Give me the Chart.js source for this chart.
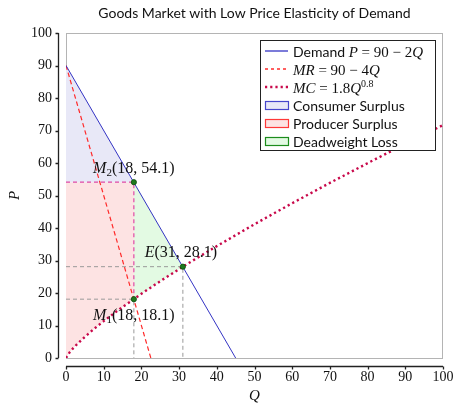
<!DOCTYPE html>
<html>
<head>
<meta charset="utf-8">
<script src="https://cdn.jsdelivr.net/npm/chart.js@4/dist/chart.umd.min.js"></script>
<style>
  html, body { margin: 0; padding: 0; background: #fff; }
  #wrap { width: 456px; height: 403px; position: relative; }
</style>
</head>
<body>
<div id="wrap"><canvas id="chart"></canvas></div>
<script>
// ---- data ----
const chartTitle = 'Goods Market with Low Price Elasticity of Demand';
const xTickValues = [0, 10, 20, 30, 40, 50, 60, 70, 80, 90, 100];
const yTickValues = [0, 10, 20, 30, 40, 50, 60, 70, 80, 90, 100];

// Demand P = 90 - 2Q (straight line, end points)
const demandQ = [0, 45];
const demandP = [90, 0];

// Marginal revenue MR = 90 - 4Q
const mrQ = [0, 22.5];
const mrP = [90, 0];

// Marginal cost MC = 1.8 Q^0.8 (sampled)
const mcQ = [0, 1, 2, 3, 5, 7.5, 10, 15, 18, 20, 25, 30, 31, 35, 40, 50, 60, 70, 80, 90, 100];
const mcP = [0, 1.8, 3.13, 4.33, 6.52, 9.02, 11.36, 15.71, 18.1, 19.77, 23.64, 27.35, 28.1, 30.94, 34.43, 41.16, 47.63, 53.88, 59.94, 65.88, 71.66];

// Marked points: M2 (monopoly price), M1 (monopoly MC), E (equilibrium)
const markNames = ['M2', 'M1', 'E'];
const markQ = [18, 18, 31];
const markP = [54.1, 18.1, 28.1];

// ---- helpers ----
const pts = (xs, ys) => xs.map((x, i) => ({ x, y: ys[i] }));
const qM = markQ[0], pMono = markP[0], pMc = markP[1];
const qE = markQ[2], pE = markP[2];

// Consumer surplus: under demand, above monopoly price
const csPoly = [{ x: demandQ[0], y: demandP[0] }, { x: qM, y: pMono }, { x: 0, y: pMono }, { x: demandQ[0], y: demandP[0] }];
// Producer surplus: below monopoly price, above MC up to qM
const psPoly = [{ x: 0, y: pMono }, { x: qM, y: pMono }]
  .concat(pts(mcQ, mcP).filter(p => p.x <= qM).reverse())
  .concat([{ x: 0, y: pMono }]);
// Deadweight loss: between demand and MC from qM to qE
const dwlPoly = [{ x: qM, y: pMono }, { x: qE, y: pE }]
  .concat(pts(mcQ, mcP).filter(p => p.x >= qM && p.x <= qE).reverse())
  .concat([{ x: qM, y: pMono }]);

const C = {
  demand: '#3434c4',
  mr: '#ff2a2a',
  mc: '#c8084a',
  magenta: '#e04aa6',
  guide: '#9a9a9a',
  csFill: '#e8e8f7', csEdge: '#4646cc',
  psFill: '#fde3e3', psEdge: '#ff3838',
  dwlFill: '#e3fae3', dwlEdge: '#1c8c1c',
  mark: '#1d7a1d', markEdge: '#0b4b0b'
};

const SERIF = '"Liberation Serif", "DejaVu Serif", serif';
const SANS = 'Lato, "DejaVu Sans", sans-serif';

function lineSet(data, color, width, dash, order, extra) {
  return Object.assign({
    data, showLine: true, borderColor: color, borderWidth: width, borderDash: dash || [],
    pointRadius: 0, pointHoverRadius: 0, fill: false, order, tension: 0
  }, extra || {});
}

const datasets = [
  // marks (top)
  { data: pts(markQ, markP), showLine: false, pointRadius: 2.6, pointStyle: 'circle',
    backgroundColor: C.mark, borderColor: C.markEdge, borderWidth: 0.8, order: 0 },
  lineSet(pts(demandQ, demandP), C.demand, 1, [], 1),
  lineSet(pts(mrQ, mrP), C.mr, 1.2, [4.5, 3], 1),
  lineSet(pts(mcQ, mcP), C.mc, 2.4, [2.2, 3], 1),
  // guide lines
  lineSet([{ x: 0, y: pMono }, { x: qM, y: pMono }, { x: qM, y: pMc }], C.magenta, 1.2, [4, 3], 2),
  lineSet([{ x: 0, y: pE }, { x: qE, y: pE }, { x: qE, y: 0 }], C.guide, 1, [4, 3], 3),
  lineSet([{ x: 0, y: pMc }, { x: qM, y: pMc }, { x: qM, y: 0 }], C.guide, 1, [4, 3], 3),
  // shaded areas (bottom)
  lineSet(csPoly, 'rgba(0,0,0,0)', 0, [], 4, { fill: 'shape', backgroundColor: C.csFill }),
  lineSet(psPoly, 'rgba(0,0,0,0)', 0, [], 4, { fill: 'shape', backgroundColor: C.psFill }),
  lineSet(dwlPoly, 'rgba(0,0,0,0)', 0, [], 4, { fill: 'shape', backgroundColor: C.dwlFill })
];

// draw a row of text runs with different fonts
function drawRuns(ctx, runs, x, y, align) {
  let total = 0;
  runs.forEach(r => { ctx.font = r.font; total += ctx.measureText(r.t).width; });
  let cx = align === 'center' ? x - total / 2 : x;
  ctx.textAlign = 'left';
  ctx.textBaseline = 'alphabetic';
  runs.forEach(r => {
    ctx.font = r.font;
    ctx.fillText(r.t, cx, y + (r.dy || 0));
    cx += ctx.measureText(r.t).width;
  });
}

const mathI = (s, sz) => ({ t: s, font: `italic ${sz || 15}px ${SERIF}` });
const mathR = (s, sz) => ({ t: s, font: `${sz || 15}px ${SERIF}` });
const sans = s => ({ t: s, font: `14px ${SANS}` });

const legendRows = [
  { kind: 'line', color: C.demand, width: 1.3, dash: [], runs: [sans('Demand '), mathI('P'), mathR(' = 90 \u2212 2'), mathI('Q')] },
  { kind: 'line', color: C.mr, width: 1.4, dash: [3, 3], runs: [mathI('MR'), mathR(' = 90 \u2212 4'), mathI('Q')] },
  { kind: 'line', color: C.mc, width: 2.4, dash: [2.2, 3], runs: [mathI('MC'), mathR(' = 1.8'), mathI('Q'), { t: '0.8', font: `10px ${SERIF}`, dy: -6 }] },
  { kind: 'box', color: C.csEdge, fill: C.csFill, runs: [sans('Consumer Surplus')] },
  { kind: 'box', color: C.psEdge, fill: C.psFill, runs: [sans('Producer Surplus')] },
  { kind: 'box', color: C.dwlEdge, fill: C.dwlFill, runs: [sans('Deadweight Loss')] }
];

const decor = {
  id: 'decor',
  beforeDatasetsDraw(chart) {
    const { ctx, chartArea: a } = chart;
    ctx.save();
    ctx.strokeStyle = '#b4b4b4';
    ctx.lineWidth = 1;
    ctx.strokeRect(a.left + 0.5, a.top + 0.5, a.right - a.left - 1, a.bottom - a.top);
    ctx.restore();
  },
  afterDraw(chart) {
    const { ctx, chartArea: a, scales } = chart;
    const xs = scales.x, ys = scales.y;
    ctx.save();
    // title
    ctx.fillStyle = '#111';
    ctx.font = `14px ${SANS}`;
    ctx.textAlign = 'center';
    ctx.textBaseline = 'middle';
    ctx.fillText(chartTitle, (a.left + a.right) / 2, 13);

    // separated axis lines
    ctx.strokeStyle = '#222';
    ctx.lineWidth = 1.3;
    const axX = a.left - 7.5, axY = a.bottom + 8.5;
    ctx.beginPath();
    ctx.moveTo(axX, a.top); ctx.lineTo(axX, a.bottom);
    yTickValues.forEach(v => { const py = Math.round(ys.getPixelForValue(v)) + 0.5; ctx.moveTo(axX, py); ctx.lineTo(axX - 3, py); });
    ctx.moveTo(a.left, axY); ctx.lineTo(a.right, axY);
    xTickValues.forEach(v => { const px = Math.round(xs.getPixelForValue(v)) + 0.5; ctx.moveTo(px, axY); ctx.lineTo(px, axY + 3); });
    ctx.stroke();

    // axis titles
    ctx.fillStyle = '#111';
    ctx.font = `italic 15px ${SERIF}`;
    ctx.textAlign = 'center';
    ctx.textBaseline = 'middle';
    ctx.fillText('Q', (a.left + a.right) / 2, 396);
    ctx.save();
    ctx.translate(15, (a.top + a.bottom) / 2);
    ctx.rotate(-Math.PI / 2);
    ctx.fillText('P', 0, 0);
    ctx.restore();

    // point labels
    ctx.fillStyle = '#111';
    const lab = i => {
      const name = markNames[i];
      const runs = [mathI(name[0], 16)];
      if (name.length > 1) runs.push({ t: name.slice(1), font: `11px ${SERIF}`, dy: 3 });
      runs.push(mathR(`(${markQ[i]}, ${markP[i].toFixed(1)})`, 16));
      return runs;
    };
    const px = i => xs.getPixelForValue(markQ[i]);
    const py = i => ys.getPixelForValue(markP[i]);
    drawRuns(ctx, lab(0), px(0), py(0) - 9, 'center');
    drawRuns(ctx, lab(1), px(1), py(1) + 21, 'center');
    drawRuns(ctx, lab(2), px(2) - 2, py(2) - 10, 'center');

    // legend
    const lx = 260.5, ly = 40.5, lw = 175, lh = 110;
    ctx.fillStyle = '#fff';
    ctx.fillRect(lx, ly, lw, lh);
    ctx.strokeStyle = '#222';
    ctx.lineWidth = 1;
    ctx.strokeRect(lx, ly, lw, lh);
    legendRows.forEach((row, i) => {
      const cy = 51 + i * 18;
      if (row.kind === 'line') {
        ctx.save();
        ctx.strokeStyle = row.color;
        ctx.lineWidth = row.width;
        ctx.setLineDash(row.dash);
        ctx.beginPath();
        ctx.moveTo(265, cy); ctx.lineTo(288, cy);
        ctx.stroke();
        ctx.restore();
      } else {
        ctx.fillStyle = row.fill;
        ctx.fillRect(265.5, cy - 3.5, 23, 8);
        ctx.strokeStyle = row.color;
        ctx.lineWidth = 1.2;
        ctx.strokeRect(265.5, cy - 3.5, 23, 8);
      }
      ctx.fillStyle = '#111';
      drawRuns(ctx, row.runs, 293, cy + 5.5, 'left');
    });
    ctx.restore();
  }
};

new Chart(document.getElementById('chart'), {
  type: 'scatter',
  data: { datasets },
  options: {
    responsive: true,
    maintainAspectRatio: false,
    animation: false,
    events: [],
    layout: { padding: { top: 33, right: 13, left: 0, bottom: 0 } },
    plugins: { legend: { display: false }, title: { display: false }, tooltip: { enabled: false } },
    scales: {
      x: {
        type: 'linear', min: 0, max: 100,
        afterFit(s) { s.height = 45; s.paddingLeft = 0; s.paddingRight = 0; },
        afterBuildTicks(s) { s.ticks = xTickValues.map(v => ({ value: v })); },
        grid: { display: false, drawTicks: false },
        border: { display: false },
        ticks: { padding: 11, color: '#111', font: { family: SERIF, size: 14 }, maxRotation: 0, autoSkip: false }
      },
      y: {
        type: 'linear', min: 0, max: 100,
        afterFit(s) { s.width = 66; s.paddingTop = 0; s.paddingBottom = 0; },
        afterBuildTicks(s) { s.ticks = yTickValues.map(v => ({ value: v })); },
        grid: { display: false, drawTicks: false },
        border: { display: false },
        ticks: { padding: 14, color: '#111', font: { family: SERIF, size: 14 }, autoSkip: false }
      }
    }
  },
  plugins: [decor]
});
</script>
</body>
</html>
